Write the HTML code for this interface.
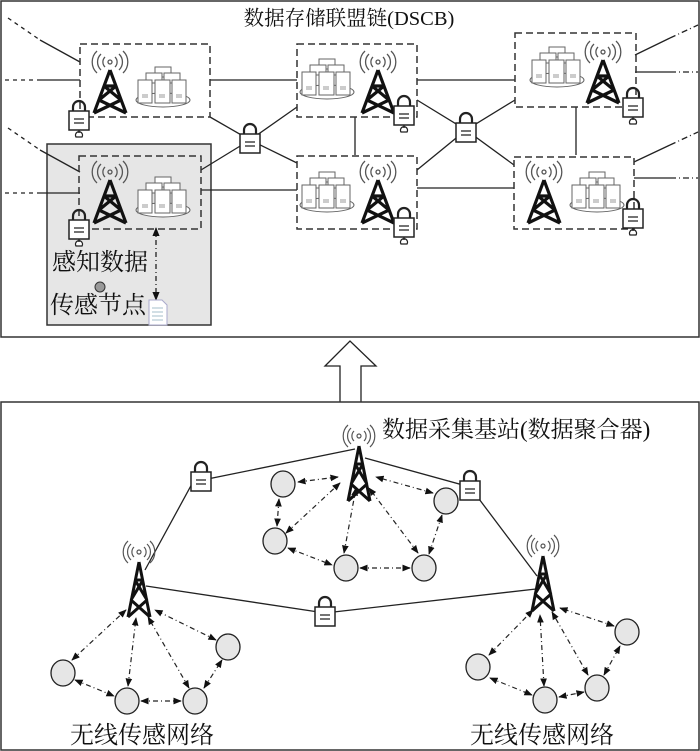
<!DOCTYPE html>
<html><head><meta charset="utf-8"><style>
body{margin:0;background:#fff}
svg{display:block}
text{font-family:"Liberation Serif","Noto Serif CJK SC","Noto Sans CJK SC",serif;fill:#111}
</style></head><body>
<svg width="700" height="751" viewBox="0 0 700 751" xmlns="http://www.w3.org/2000/svg">
<defs>
<g id="tw">
 <g fill="none" stroke="#555" stroke-width="1.3">
  <circle cx="0" cy="-8" r="2"/>
  <path d="M-5,-13 A7,7 0 0,0 -5,-3 M5,-13 A7,7 0 0,1 5,-3"/>
  <path d="M-9,-16 A11,11 0 0,0 -9,0 M9,-16 A11,11 0 0,1 9,0"/>
  <path d="M-13,-19 A15,15 0 0,0 -13,3 M13,-19 A15,15 0 0,1 13,3"/>
 </g>
 <g fill="none" stroke="#111" stroke-width="3.2" stroke-linejoin="miter">
  <path d="M0,0 L-16,43 M0,0 L16,43 M-6,16 L6,16 M-6,16 L11,30 M6,16 L-11,30 M-11,30 L16,43 M11,30 L-16,43"/>
 </g>
</g>
<g id="tw2">
 <g fill="none" stroke="#555" stroke-width="1.2">
  <circle cx="0" cy="-10" r="2"/>
  <path d="M-5,-15 A7,7 0 0,0 -5,-5 M5,-15 A7,7 0 0,1 5,-5"/>
  <path d="M-8,-18 A11,11 0 0,0 -8,-2 M8,-18 A11,11 0 0,1 8,-2"/>
  <path d="M-11,-21 A15,15 0 0,0 -11,1 M11,-21 A15,15 0 0,1 11,1"/>
 </g>
 <g fill="none" stroke="#111" stroke-width="3" stroke-linejoin="miter">
  <path d="M0,0 L-11,55 M0,0 L11,55 M-4,18 L4,18 M-4,18 L8,38 M4,18 L-8,38 M-8,38 L11,55 M8,38 L-11,55"/>
 </g>
</g>
<g id="sv" stroke="#666" stroke-width="1" fill="#fff">
 <ellipse cx="0" cy="0" rx="27" ry="7"/>
 <rect x="-8" y="-33" width="16" height="10"/>
 <rect x="-17" y="-27" width="16" height="10"/>
 <rect x="1" y="-27" width="16" height="10"/>
 <rect x="-25" y="-20" width="14" height="23"/>
 <rect x="-8" y="-20" width="15" height="23"/>
 <rect x="9" y="-20" width="14" height="23"/>
 <path d="M-21,-5h6M-21,-3h6M-4,-5h6M-4,-3h6M13,-5h6M13,-3h6" stroke="#999"/>
</g>
<g id="lk" stroke="#222" stroke-width="1.5" fill="#fff">
 <path d="M-6,-8 V-12 A6,6 0 0,1 6,-12 V-8" fill="none" stroke-width="2.2"/>
 <rect x="-10" y="-8" width="20" height="19"/>
 <path d="M-5,0h10M-5,4h10" stroke-width="1.2"/>
</g>
<g id="lkd">
 <use href="#lk"/>
 <path d="M0,11 V14 M-3,18 A3.5,3.5 0 1,1 3,18 Z" stroke="#222" stroke-width="1.3" fill="#fff"/>
</g>
<marker id="ah" viewBox="0 0 10 10" refX="9" refY="5" markerWidth="7" markerHeight="7" orient="auto-start-reverse"><path d="M0,1 L10,5 L0,9 Z" fill="#111"/></marker>
</defs>

<!-- top panel -->
<rect x="1" y="1" width="698" height="336" fill="#fff" stroke="#333" stroke-width="1.5"/>
<text x="349" y="25" font-size="20.5" text-anchor="middle">数据存储联盟链(DSCB)</text>
<rect x="47" y="144" width="164" height="181" fill="#e6e6e6" stroke="#333" stroke-width="1.5"/>

<g stroke="#222" stroke-width="1.3" fill="none">
 <path d="M40,40 L80,62 M40,80 L80,80 M40,150 L80,172 M40,193 L80,193"/>
 <path d="M8,18 L40,40 M5,80 L40,80 M8,128 L40,150 M5,193 L40,193" stroke-dasharray="4,4"/>
 <path d="M635,55 L670,38 M635,72 L670,72 M634,162 L670,145 M634,178 L670,178"/>
 <path d="M670,38 L698,25 M670,72 L698,72 M670,145 L698,132 M670,178 L698,178" stroke-dasharray="6,3,1,3"/>
 <path d="M210,80 L297,80 M210,117 L250,140 L297,163 M201,170 L250,140 L297,107 M201,190 L297,190"/>
 <path d="M355,117 V155"/>
 <path d="M417,80 L515,80 M417,188 L514,188 M417,100 L466,130 L515,100 M417,170 L466,130 L514,165 M576,107 V155"/>
</g>
<g fill="none" stroke="#333" stroke-width="1.5" stroke-dasharray="7,4">
 <rect x="80" y="44" width="130" height="73"/>
 <rect x="79" y="156" width="122" height="73"/>
 <rect x="297" y="44" width="120" height="73"/>
 <rect x="297" y="156" width="120" height="73"/>
 <rect x="515" y="33" width="121" height="74"/>
 <rect x="514" y="157" width="120" height="72"/>
</g>
<use href="#tw" x="110" y="70"/><use href="#sv" x="163" y="100"/>
<use href="#tw" x="110" y="180"/><use href="#sv" x="163" y="210"/>
<use href="#sv" x="327" y="92"/><use href="#tw" x="378" y="70"/>
<use href="#sv" x="327" y="205"/><use href="#tw" x="378" y="180"/>
<use href="#sv" x="557" y="80"/><use href="#tw" x="603" y="60"/>
<use href="#tw" x="544" y="180"/><use href="#sv" x="597" y="205"/>
<use href="#lk" x="250" y="142"/>
<use href="#lk" x="466" y="131"/>
<use href="#lkd" x="79" y="119"/>
<use href="#lkd" x="79" y="228"/>
<use href="#lkd" x="404" y="114"/>
<use href="#lkd" x="404" y="226"/>
<use href="#lkd" x="633" y="106"/>
<use href="#lkd" x="633" y="217"/>

<text x="52" y="270" font-size="24">感知数据</text>
<text x="50" y="313" font-size="24">传感节点</text>
<circle cx="100" cy="287" r="5" fill="#999" stroke="#333"/>
<path d="M156,228 V300" stroke="#222" stroke-width="1.3" stroke-dasharray="5,3,1,3" marker-start="url(#ah)" marker-end="url(#ah)"/>
<path d="M149,300 h13 l5,5 v20 h-18 Z" fill="#fff" stroke="#aac"/>
<path d="M152,308h11M152,312h11M152,316h11M152,320h11" stroke="#8ab" stroke-width="0.8"/>

<path d="M340,402 V366 H325 L350,341 L376,366 H361 V402" fill="#fff" stroke="#222" stroke-width="1.3"/>

<!-- bottom panel -->
<rect x="1" y="402" width="698" height="348" fill="#fff" stroke="#333" stroke-width="1.5"/>
<text x="382" y="437" font-size="23">数据采集基站(数据聚合器)</text>
<text x="70" y="743" font-size="24">无线传感网络</text>
<text x="470" y="743" font-size="24">无线传感网络</text>

<g stroke="#222" stroke-width="1.3" fill="none">
 <path d="M355,449 L193,482 L145,570 M365,458 L470,487 L537,576 M146,586 L325,613 L536,589"/>
</g>
<use href="#lk" x="201" y="480"/>
<use href="#lk" x="470" y="489"/>
<use href="#lk" x="325" y="615"/>

<use href="#tw2" x="359" y="446"/>
<use href="#tw2" x="139" y="562"/>
<use href="#tw2" x="543" y="556"/>

<g stroke="#222" stroke-width="1.2" fill="none" stroke-dasharray="5,3,1,3" marker-start="url(#ah)" marker-end="url(#ah)">
 <path d="M298,482 L338,477"/>
 <path d="M286,533 L340,483"/>
 <path d="M344,553 L356,488"/>
 <path d="M418,553 L369,488"/>
 <path d="M433,493 L376,477"/>
 <path d="M279,499 L277,526"/>
 <path d="M288,548 L332,565"/>
 <path d="M360,568 L410,568"/>
 <path d="M429,554 L442,515"/>
 <path d="M72,660 L126,610"/>
 <path d="M128,686 L136,618"/>
 <path d="M189,688 L148,617"/>
 <path d="M216,640 L155,610"/>
 <path d="M75,680 L114,696"/>
 <path d="M141,701 L181,701"/>
 <path d="M204,688 L222,660"/>
 <path d="M489,655 L533,610"/>
 <path d="M544,686 L540,615"/>
 <path d="M588,675 L552,612"/>
 <path d="M614,626 L560,608"/>
 <path d="M490,678 L532,695"/>
 <path d="M559,697 L584,692"/>
 <path d="M604,675 L620,646"/>
</g>
<g fill="#e6e6e6" stroke="#222" stroke-width="1.3">
 <ellipse cx="283" cy="484" rx="12" ry="13"/>
 <ellipse cx="275" cy="541" rx="12" ry="13"/>
 <ellipse cx="346" cy="568" rx="12" ry="13"/>
 <ellipse cx="424" cy="568" rx="12" ry="13"/>
 <ellipse cx="446" cy="501" rx="12" ry="13"/>
 <ellipse cx="63" cy="673" rx="12" ry="13"/>
 <ellipse cx="127" cy="701" rx="12" ry="13"/>
 <ellipse cx="195" cy="701" rx="12" ry="13"/>
 <ellipse cx="228" cy="647" rx="12" ry="13"/>
 <ellipse cx="478" cy="667" rx="12" ry="13"/>
 <ellipse cx="545" cy="700" rx="12" ry="13"/>
 <ellipse cx="597" cy="688" rx="12" ry="13"/>
 <ellipse cx="627" cy="632" rx="12" ry="13"/>
</g>
</svg>
</body></html>
